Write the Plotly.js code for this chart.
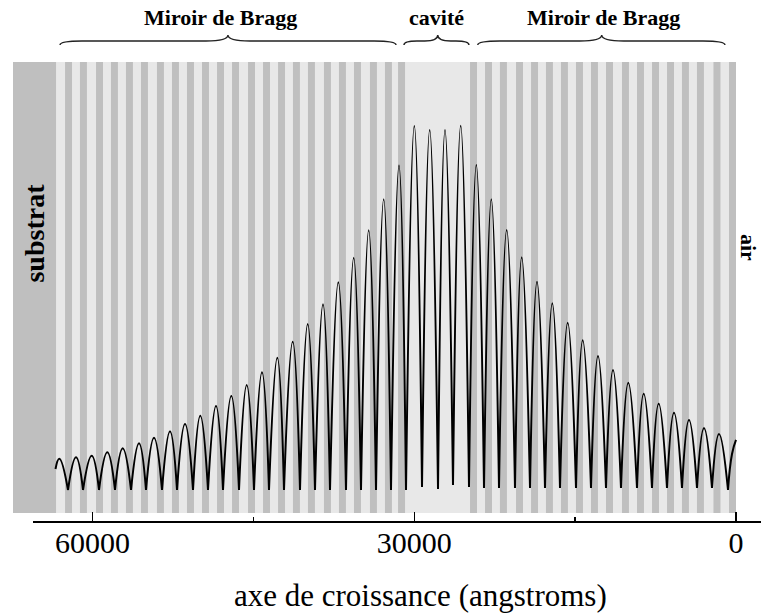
<!DOCTYPE html>
<html>
<head>
<meta charset="utf-8">
<script src="https://cdn.plot.ly/plotly-3.0.1.min.js"></script>
<style>html,body{margin:0;padding:0;background:#fff;}#chart{width:761px;height:615px;}</style>
</head>
<body>
<div id="chart"></div>
<script>
// ---------- data (positions along growth axis in angstroms) ----------
var substrateEdge = 63400;      // substrate / first layer interface
var surfaceEdge = 0;            // last layer / air interface
var darkLayerThickness = 650;   // high-index (dark) layers
// start (substrate side) of each dark layer
var darkLayerStart = [62560, 61170, 59670, 58280, 56880, 55480, 53990, 52590, 51190, 49790,
  48390, 46990, 45500, 44100, 42700, 41310, 39910, 38420, 37020, 35620, 34130, 32730, 31510,
  24800, 23400, 22010, 20510, 19110, 17720, 16320, 14920, 13520, 12120, 10630, 9230, 7830,
  6430, 5040, 3640, 2100, 650];

// field profile: cusps (minima) and arch tops (maxima)
var minX = [62284, 60886, 59394, 57902, 56410, 55012, 53520, 52121, 50629, 49231, 47832,
  46340, 44942, 43543, 42145, 40653, 39254, 37856, 36364, 34965, 33566, 32168, 30769, 29277,
  27785, 26387, 24895, 23496, 22098, 20606, 19207, 17809, 16410, 14918, 13520, 12121, 10723,
  9231, 7832, 6434, 5035, 3636, 2238, 746];
var minY = [5.1, 5.1, 5.1, 5.1, 5.1, 5.1, 5.1, 5.1, 5.1, 5.1, 5.1, 5.1, 5.1, 5.1, 5.1, 5.1,
  5.1, 5.1, 5.1, 5.1, 5.1, 5.1, 5.1, 5.76, 5.32, 6.21, 5.76, 5.54, 5.54, 5.54, 5.54, 5.54,
  5.54, 5.54, 5.54, 5.54, 5.54, 5.54, 5.54, 5.54, 5.54, 5.54, 5.54, 5.1];
var peakX = [63095, 61538, 60075, 58620, 57184, 55664, 54266, 52774, 51375, 49949, 48485,
  47058, 45622, 44196, 42769, 41333, 39935, 38508, 37082, 35646, 34247, 32849, 31422, 29995,
  28560, 27133, 25669, 24214, 22816, 21380, 19981, 18555, 17128, 15692, 14294, 12867, 11469,
  10042, 8606, 7208, 5781, 4382, 2984, 1585];
var peakY = [12.04, 12.35, 12.71, 13.46, 14.35, 15.45, 16.70, 18.12, 19.73, 21.57, 23.73,
  25.94, 28.38, 31.20, 34.43, 37.98, 41.91, 46.27, 51.15, 56.61, 62.68, 69.56, 77.05, 85.81,
  84.92, 84.92, 85.88, 77.16, 69.56, 62.75, 56.70, 51.29, 46.50, 42.20, 38.29, 34.81, 31.71,
  28.89, 26.45, 24.24, 22.24, 20.62, 18.85, 17.52];
var startPoint = [63450, 9.76];
var endPoints = [[373, 13.08], [0, 16.19]];

// regions (braces) and labels
var regionLabel = ['Miroir de Bragg', 'cavité', 'Miroir de Bragg'];
var regionFrom = [63030, 30960, 24080];
var regionTo = [31700, 24900, 1030];
var regionTip = [47370, 27810, 12520];
var regionLabelX = [48110, 27880, 12310];

var tickVals = [60000, 30000, 0];
var tickText = ['60000', '30000', '0'];
var minorTickVals = [45000, 15000];

// ---------- build curve (each arch a separate smooth segment, cusps between) ----------
var cx = [], cy = [];
function seg(pts) { pts.forEach(function (p) { cx.push(p[0]); cy.push(p[1]); }); cx.push(null); cy.push(null); }
seg([startPoint, [peakX[0], peakY[0]], [minX[0], minY[0]]]);
for (var i = 1; i < peakX.length; i++) {
  seg([[minX[i - 1], minY[i - 1]], [peakX[i], peakY[i]], [minX[i], minY[i]]]);
}
var last = minX.length - 1;
seg([[minX[last], minY[last]]].concat(endPoints));

// ---------- shapes ----------
var X0 = 67413, X1 = -2331;
var shapes = [];
shapes.push({type: 'rect', xref: 'x', yref: 'y', x0: substrateEdge, x1: surfaceEdge, y0: 0, y1: 100,
  fillcolor: '#e8e8e8', line: {width: 0}, layer: 'below'});
shapes.push({type: 'rect', xref: 'x', yref: 'y', x0: X0 + 500, x1: substrateEdge, y0: 0, y1: 100,
  fillcolor: '#bfbfbf', line: {width: 0}, layer: 'below'});
darkLayerStart.forEach(function (s) {
  shapes.push({type: 'rect', xref: 'x', yref: 'y', x0: s, x1: s - darkLayerThickness, y0: 0, y1: 100,
    fillcolor: '#bfbfbf', line: {width: 0}, layer: 'below'});
});
// axis line
shapes.push({type: 'line', xref: 'paper', yref: 'paper', x0: 20 / 748, x1: 1, y0: 0, y1: 0,
  line: {color: '#000', width: 2}});

// braces
var pxA = 93.24; // angstrom per pixel
var yLine = 1.0457, yEnd = 1.037, yTip = 1.0587;
for (var r = 0; r < regionLabel.length; r++) {
  var a = regionFrom[r], b = regionTo[r], t = regionTip[r];
  var rr = Math.min(22 * pxA, (a - b) / 5);
  var p = 'M ' + a + ',' + yEnd +
    ' Q ' + a + ',' + yLine + ' ' + (a - rr) + ',' + yLine +
    ' L ' + (t + rr) + ',' + yLine +
    ' Q ' + t + ',' + yLine + ' ' + t + ',' + yTip +
    ' Q ' + t + ',' + yLine + ' ' + (t - rr) + ',' + yLine +
    ' L ' + (b + rr) + ',' + yLine +
    ' Q ' + b + ',' + yLine + ' ' + b + ',' + yEnd;
  shapes.push({type: 'path', xref: 'x', yref: 'paper', path: p, line: {color: '#222', width: 1.4}});
}

// ---------- annotations ----------
var serif = 'Liberation Serif, Times New Roman, serif';
var annotations = [];
for (var k = 0; k < regionLabel.length; k++) {
  annotations.push({xref: 'x', yref: 'paper', x: regionLabelX[k], y: 1.0957, yanchor: 'middle',
    xanchor: 'center', showarrow: false, text: '<b>' + regionLabel[k] + '</b>',
    font: {family: serif, size: 22, color: '#000'}});
}
annotations.push({xref: 'x', yref: 'paper', x: 65414, y: 0.628, textangle: -90, showarrow: false,
  text: '<b>substrat</b>', font: {family: serif, size: 28, color: '#000'}});
annotations.push({xref: 'x', yref: 'paper', x: -1120, y: 0.598, textangle: 90, showarrow: false,
  text: '<b>air</b>', font: {family: serif, size: 22, color: '#000'}});
annotations.push({xref: 'paper', yref: 'paper', x: (421 - 13) / 748, y: (522 - 595) / 460,
  xanchor: 'center', yanchor: 'middle', showarrow: false, text: 'axe de croissance (angstroms)',
  font: {family: serif, size: 31, color: '#000'}});

var trace = {x: cx, y: cy, type: 'scatter', mode: 'lines', connectgaps: false,
  line: {color: '#000', width: 2, shape: 'spline', smoothing: 1.3}, hoverinfo: 'skip'};

var layout = {
  width: 761, height: 615,
  margin: {l: 13, r: 0, t: 62, b: 93, pad: 0},
  paper_bgcolor: '#fff', plot_bgcolor: '#fff',
  showlegend: false,
  xaxis: {range: [X0, X1], showgrid: false, zeroline: false, showline: false,
    ticks: 'inside', ticklen: 10, tickwidth: 1.5, tickcolor: '#000',
    tickmode: 'array', tickvals: tickVals, ticktext: tickText,
    minor: {tickmode: 'array', tickvals: minorTickVals, ticks: 'inside', ticklen: 5, tickwidth: 1.5, tickcolor: '#000', showgrid: false},
    tickfont: {family: serif, size: 30, color: '#000'}},
  yaxis: {range: [-1.996, 100], visible: false, showgrid: false, zeroline: false},
  shapes: shapes,
  annotations: annotations
};
Plotly.newPlot('chart', [trace], layout, {displayModeBar: false, staticPlot: true});
</script>
</body>
</html>
